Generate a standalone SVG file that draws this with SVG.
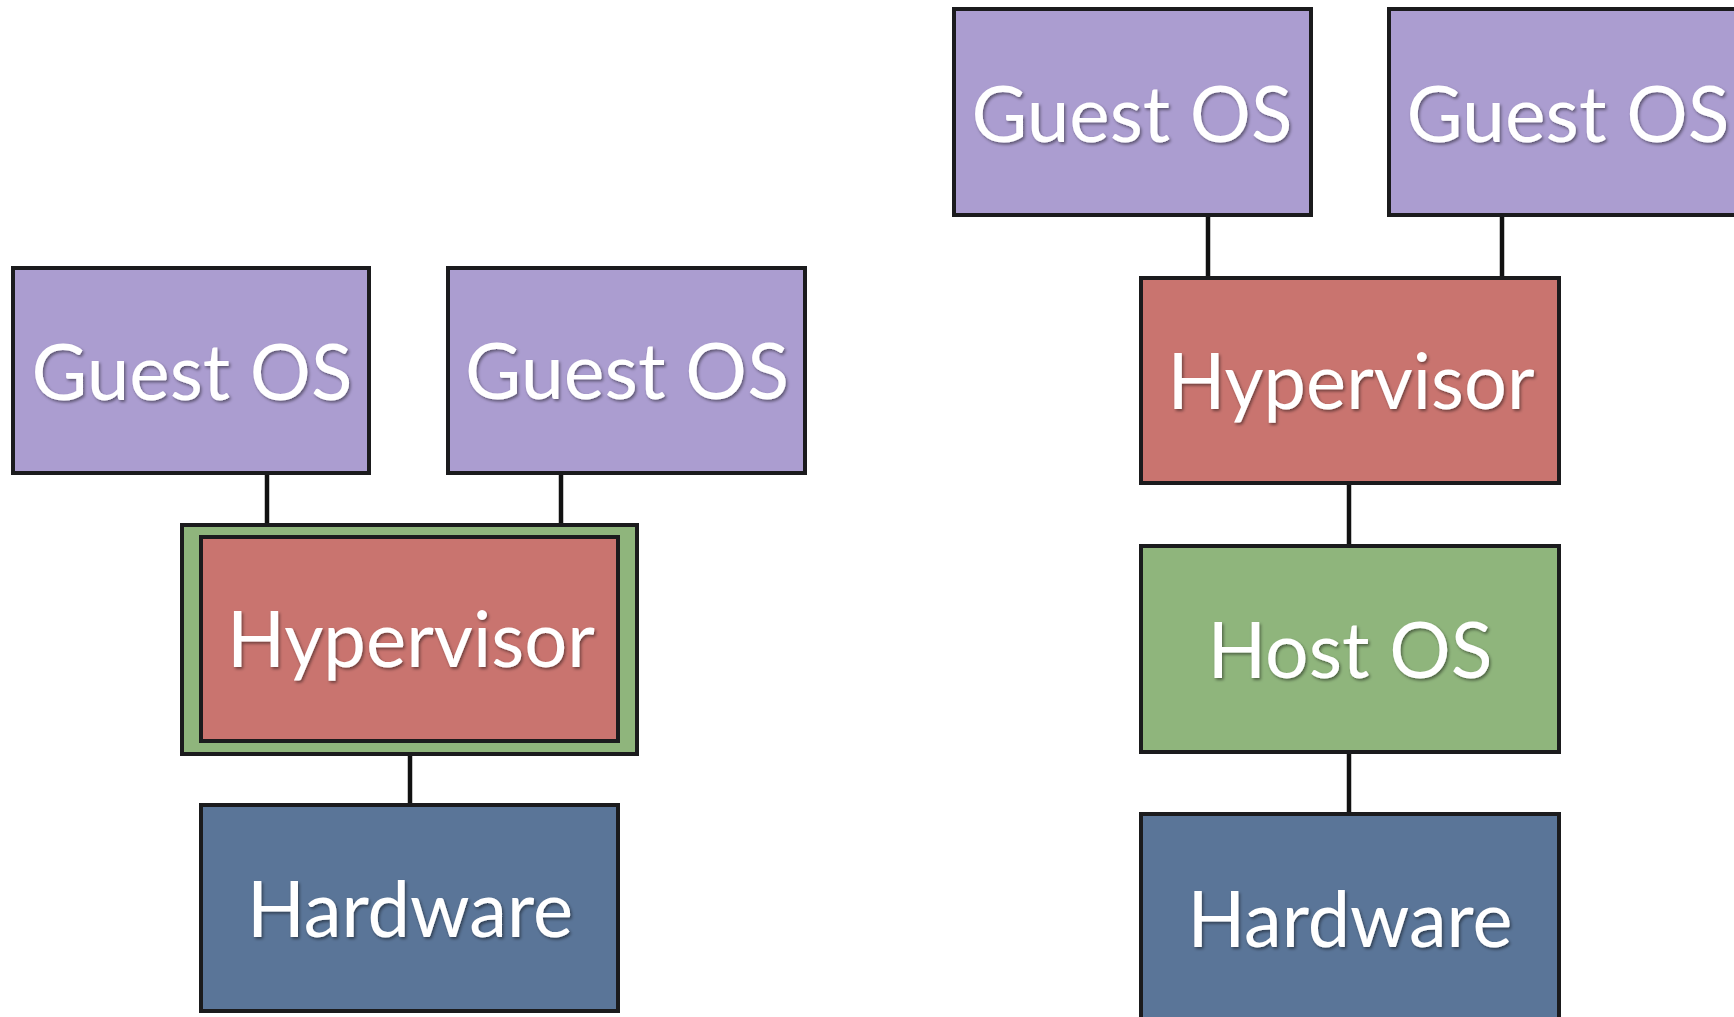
<svg xmlns="http://www.w3.org/2000/svg" width="1734" height="1017" viewBox="0 0 1734 1017">
<defs>
<style>
.box{stroke:#1b1b1d;stroke-width:4}
.guest{fill:#ab9dd0}
.hyper{fill:#c9746f}
.host{fill:#8fb57c}
.hw{fill:#5a7598}
.lbl{font-family:Lato,"Open Sans","DejaVu Sans",sans-serif;font-size:77px;fill:#ffffff;text-anchor:middle;filter:url(#sh)}
.conn{stroke:#111;stroke-width:4.5;fill:none}
</style>
<filter id="sh" x="-10%" y="-30%" width="120%" height="160%">
<feDropShadow dx="1.5" dy="2" stdDeviation="1.5" flood-color="#000" flood-opacity="0.45"/>
</filter>
</defs>
<rect width="1734" height="1017" fill="#ffffff"/>
<g id="connectors">
<line class="conn" x1="267" y1="473" x2="267" y2="525"/>
<line class="conn" x1="561" y1="473" x2="561" y2="525"/>
<line class="conn" x1="410" y1="754" x2="410" y2="805"/>
<line class="conn" x1="1208" y1="215" x2="1208" y2="278"/>
<line class="conn" x1="1502" y1="215" x2="1502" y2="278"/>
<line class="conn" x1="1349" y1="483" x2="1349" y2="546"/>
<line class="conn" x1="1349" y1="752" x2="1349" y2="814"/>
</g>
<g id="left-guest1">
<rect class="box guest" x="13" y="268" width="356" height="205"/>
<text class="lbl" x="192" y="400" textLength="321" lengthAdjust="spacingAndGlyphs">Guest OS</text>
</g>
<g id="left-guest2">
<rect class="box guest" x="448" y="268" width="357" height="205"/>
<text class="lbl" x="627" y="399" textLength="324" lengthAdjust="spacingAndGlyphs">Guest OS</text>
</g>
<g id="left-hostos">
<rect class="box host" x="182" y="525" width="455" height="229"/>
</g>
<g id="left-hypervisor">
<rect class="box hyper" x="201" y="537" width="417" height="204"/>
<text class="lbl" x="411" y="667" textLength="368" lengthAdjust="spacingAndGlyphs">Hypervisor</text>
</g>
<g id="left-hardware">
<rect class="box hw" x="201" y="805" width="417" height="206"/>
<text class="lbl" x="410" y="937" textLength="326" lengthAdjust="spacingAndGlyphs">Hardware</text>
</g>
<g id="right-guest1">
<rect class="box guest" x="954" y="9" width="357" height="206"/>
<text class="lbl" x="1132" y="142" textLength="321" lengthAdjust="spacingAndGlyphs">Guest OS</text>
</g>
<g id="right-guest2">
<rect class="box guest" x="1389" y="9" width="380" height="206"/>
<text class="lbl" x="1568" y="142" textLength="323" lengthAdjust="spacingAndGlyphs">Guest OS</text>
</g>
<g id="right-hypervisor">
<rect class="box hyper" x="1141" y="278" width="418" height="205"/>
<text class="lbl" x="1351" y="409" textLength="367" lengthAdjust="spacingAndGlyphs">Hypervisor</text>
</g>
<g id="right-hostos">
<rect class="box host" x="1141" y="546" width="418" height="206"/>
<text class="lbl" x="1350" y="678" textLength="285" lengthAdjust="spacingAndGlyphs">Host OS</text>
</g>
<g id="right-hardware">
<rect class="box hw" x="1141" y="814" width="418" height="220"/>
<text class="lbl" x="1350" y="947" textLength="325" lengthAdjust="spacingAndGlyphs">Hardware</text>
</g>
</svg>
